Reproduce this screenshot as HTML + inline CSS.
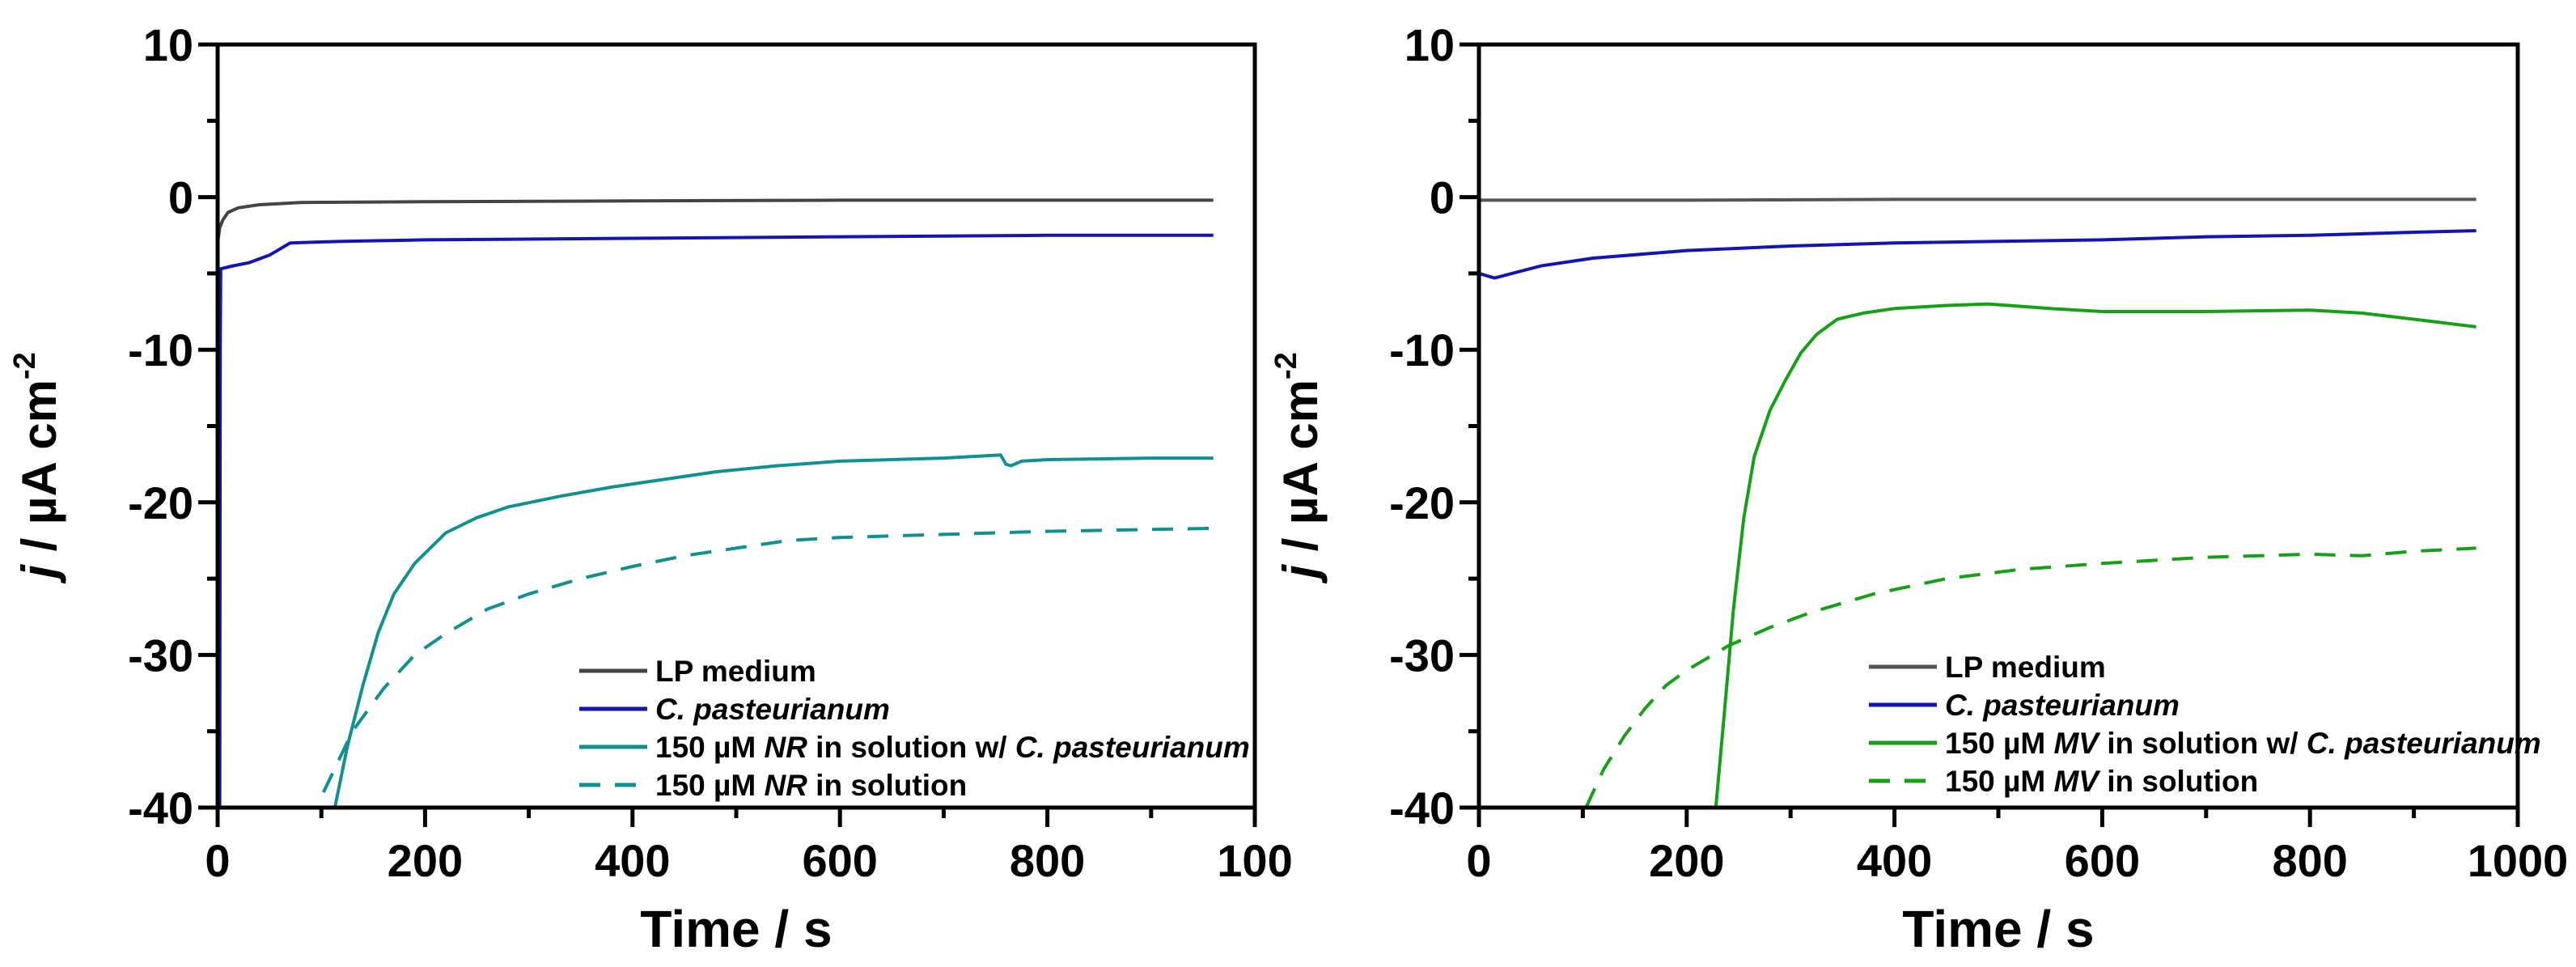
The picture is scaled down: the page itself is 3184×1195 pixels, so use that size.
<!DOCTYPE html>
<html><head><meta charset="utf-8"><style>
html,body{margin:0;padding:0;background:#fff;}
svg{display:block;}
text{font-family:"Liberation Sans",Arial,sans-serif;font-weight:bold;fill:#000;}
</style></head>
<body>
<svg id="fig" width="3184" height="1195" viewBox="0 0 3184 1195" xmlns="http://www.w3.org/2000/svg"></svg>
<script>
// ---- data (left panel, Neutral Red) ----
const L_lp_t = [0,2,5,10,20,40,80,200,400,600,800,960];
const L_lp_j = [-3,-2,-1.5,-1,-0.7,-0.5,-0.35,-0.3,-0.25,-0.2,-0.2,-0.2];
const L_cp_t = [2,2.5,3,15,30,50,70,120,200,400,600,800,960];
const L_cp_j = [-40,-10,-4.7,-4.5,-4.3,-3.8,-3.0,-2.9,-2.8,-2.7,-2.6,-2.5,-2.5];
const L_nrc_t = [113,125,140,155,170,190,220,250,280,330,380,430,480,540,600,700,755,760,765,775,800,900,960];
const L_nrc_j = [-40,-36,-32,-28.5,-26,-24,-22,-21,-20.3,-19.6,-19,-18.5,-18,-17.6,-17.3,-17.1,-16.9,-17.5,-17.6,-17.3,-17.2,-17.1,-17.1];
const L_nrs_t = [102,130,160,190,220,260,300,350,400,450,500,550,600,700,800,960];
const L_nrs_j = [-39,-35,-32.2,-30,-28.6,-27,-26,-25,-24.2,-23.5,-23,-22.5,-22.3,-22.1,-21.9,-21.7];
// ---- data (right panel, Methyl Viologen) ----
const R_lp_t = [0,200,400,600,800,960];
const R_lp_j = [-0.2,-0.2,-0.15,-0.15,-0.15,-0.15];
const R_cp_t = [0,15,60,110,200,300,400,500,600,700,800,900,960];
const R_cp_j = [-5,-5.3,-4.5,-4,-3.5,-3.2,-3,-2.9,-2.8,-2.6,-2.5,-2.3,-2.2];
const R_mvc_t = [228,236,245,255,265,280,295,310,325,345,370,400,450,490,550,600,700,800,850,900,960];
const R_mvc_j = [-40,-34,-27,-21,-17,-14,-12,-10.2,-9,-8,-7.6,-7.3,-7.1,-7.0,-7.3,-7.5,-7.5,-7.4,-7.6,-8,-8.5];
const R_mvs_t = [103,120,140,160,180,200,240,280,320,380,450,520,600,700,800,850,900,960];
const R_mvs_j = [-40,-37.5,-35.3,-33.5,-32,-31,-29.4,-28.2,-27.2,-26,-25,-24.4,-24,-23.6,-23.4,-23.5,-23.2,-23];
const xTicks = [0,200,400,600,800,1000];
const yTicks = [10,0,-10,-20,-30,-40];
const legL = ["LP medium","C. pasteurianum","150 µM NR in solution w/ C. pasteurianum","150 µM NR in solution"];
const legR = ["LP medium","C. pasteurianum","150 µM MV in solution w/ C. pasteurianum","150 µM MV in solution"];

const NS="http://www.w3.org/2000/svg";
const svg=document.getElementById('fig');
function mk(tag,attrs,parent){const e=document.createElementNS(NS,tag);for(const k in attrs)e.setAttribute(k,attrs[k]);(parent||svg).appendChild(e);return e;}

const TOP=55,BOT=998;
function panel(px0,px1,id,series,legend,legX,legY,xLabelLast){
  const g=mk('g',{});
  
  
  const sx=t=>px0+(t/1000)*(px1-px0);
  const sy=v=>TOP+(10-v)/50*(BOT-TOP);
  const clip=mk('clipPath',{id:id+'clip'},g);
  mk('rect',{x:px0,y:TOP,width:px1-px0,height:BOT-TOP},clip);
  series.forEach(s=>{
    const d=s.t.map((t,i)=>(i?'L':'M')+sx(t).toFixed(1)+','+sy(s.j[i]).toFixed(1)).join(' ');
    const p=mk('path',{d:d,fill:'none',stroke:s.c,'stroke-width':4,'stroke-linejoin':'round','clip-path':'url(#'+id+'clip)'},g);
    if(s.dash)p.setAttribute('stroke-dasharray','26,18');
    
    
  });
  const frame=mk('rect',{x:px0,y:TOP,width:px1-px0,height:BOT-TOP,fill:'none',stroke:'#000','stroke-width':5},g);
  
  
  for(let t=0;t<=1000;t+=100){
    const major=t%200===0;
    mk('line',{x1:sx(t),x2:sx(t),y1:BOT,y2:BOT+(major?24:13),stroke:'#000','stroke-width':5},g);
  }
  xTicks.forEach((t,i)=>{
    const lab=mk('text',{x:sx(t),y:BOT+85,'font-size':56,'text-anchor':'middle'},g);
    lab.textContent=(i===xTicks.length-1)?xLabelLast:String(t);
    
    
  });
  for(let v=10;v>=-40;v-=5){
    const major=v%10===0;
    mk('line',{x1:px0,x2:px0-(major?24:13),y1:sy(v),y2:sy(v),stroke:'#000','stroke-width':5},g);
  }
  yTicks.forEach(v=>{
    const lab=mk('text',{x:px0-30,y:sy(v)+20,'font-size':56,'text-anchor':'end'},g);
    lab.textContent=String(v);
    
    
  });
  const xt=mk('text',{x:(px0+px1)/2,y:1170,'font-size':64,'text-anchor':'middle'},g);
  xt.textContent='Time / s';
  
  
  const yt=mk('text',{x:0,y:0,'font-size':60,'text-anchor':'middle',transform:'translate('+(px0-200)+',575) rotate(-90)'},g);
  yt.innerHTML='<tspan font-style="italic">j</tspan> / µA cm<tspan dy="-26" font-size="38">-2</tspan>';
  
  
  legend.forEach((txt,i)=>{
    const y=legY+i*47;
    const s=series[i];
    const ln=mk('line',{x1:legX,x2:legX+84,y1:y-13,y2:y-13,stroke:s.c,'stroke-width':5},g);
    if(s.dash)ln.setAttribute('stroke-dasharray','26,18');
    
    
    const tx=mk('text',{x:legX+94,y:y,'font-size':37},g);
    let h=txt.replace('C. pasteurianum','<tspan font-style="italic">C. pasteurianum</tspan>')
             .replace(' NR ',' <tspan font-style="italic">NR</tspan> ')
             .replace(' MV ',' <tspan font-style="italic">MV</tspan> ');
    tx.innerHTML=h;
    
    
  });
}
panel(269,1551,'left',[
  {t:L_lp_t,j:L_lp_j,c:'#444444',name:'lp-medium-line'},
  {t:L_cp_t,j:L_cp_j,c:'#1414b4',name:'c-pasteurianum-line'},
  {t:L_nrc_t,j:L_nrc_j,c:'#119090',name:'nr-with-cells-line'},
  {t:L_nrs_t,j:L_nrs_j,c:'#119090',dash:true,name:'nr-solution-line'}
],legL,716,842,'100');
panel(1828,3112,'right',[
  {t:R_lp_t,j:R_lp_j,c:'#555555',name:'lp-medium-line'},
  {t:R_cp_t,j:R_cp_j,c:'#1414b4',name:'c-pasteurianum-line'},
  {t:R_mvc_t,j:R_mvc_j,c:'#15a015',name:'mv-with-cells-line'},
  {t:R_mvs_t,j:R_mvs_j,c:'#15a015',dash:true,name:'mv-solution-line'}
],legR,2310,837,'1000');
</script>
</body></html>
